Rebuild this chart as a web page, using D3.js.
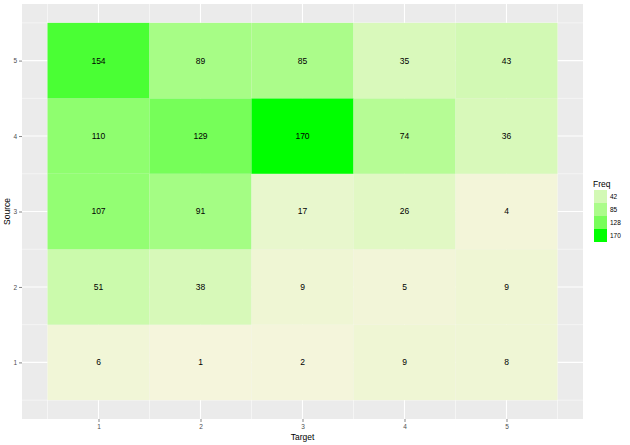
<!DOCTYPE html>
<html>
<head>
<meta charset="utf-8">
<script src="https://cdn.jsdelivr.net/npm/d3@7"></script>
<style>
  body { margin: 0; background: #fff; }
  text { font-family: "Liberation Sans", Arial, sans-serif; }
</style>
</head>
<body>
<svg id="canvas"></svg>
<script>
// rows of the matrix, Target 1..5 along each row
let targets = [1, 2, 3, 4, 5];
let sources = [1, 2, 3, 4, 5];
let source1 = [6, 1, 2, 9, 8];
let source2 = [51, 38, 9, 5, 9];
let source3 = [107, 91, 17, 26, 4];
let source4 = [110, 129, 170, 74, 36];
let source5 = [154, 89, 85, 35, 43];
let legendBreaks = [42, 85, 128, 170];

let width = 630;
let height = 445;
let panel = { left: 22, top: 4, right: 583, bottom: 419 };

let rows = [source1, source2, source3, source4, source5];
let cells = [];
rows.forEach((row, i) => {
  row.forEach((freq, j) => {
    cells.push({ target: targets[j], source: sources[i], freq: freq });
  });
});

let canvas = d3.select("#canvas").attr("width", width).attr("height", height);

let xScale = d3.scaleLinear().domain([0.25, 5.75]).range([panel.left, panel.right]);
let yScale = d3.scaleLinear().domain([0.25, 5.75]).range([panel.bottom, panel.top]);

let minFreq = d3.min(cells, (d) => d.freq);
let maxFreq = d3.max(cells, (d) => d.freq);
let colorScale = d3
  .scaleLinear()
  .domain([minFreq, maxFreq])
  .range(["#F5F5DC", "#00FF00"])
  .interpolate(d3.interpolateLab);

// panel background
canvas
  .append("rect")
  .attr("x", panel.left)
  .attr("y", panel.top)
  .attr("width", panel.right - panel.left)
  .attr("height", panel.bottom - panel.top)
  .attr("fill", "#EBEBEB");

// grid lines, minor then major
let minor = [0.5, 1.5, 2.5, 3.5, 4.5, 5.5];
let grid = canvas.append("g");
minor.forEach((v) => {
  grid.append("line")
    .attr("x1", xScale(v)).attr("x2", xScale(v))
    .attr("y1", panel.top).attr("y2", panel.bottom)
    .attr("stroke", "#fff").attr("stroke-width", 0.5);
  grid.append("line")
    .attr("y1", yScale(v)).attr("y2", yScale(v))
    .attr("x1", panel.left).attr("x2", panel.right)
    .attr("stroke", "#fff").attr("stroke-width", 0.5);
});
targets.forEach((v) => {
  grid.append("line")
    .attr("x1", xScale(v)).attr("x2", xScale(v))
    .attr("y1", panel.top).attr("y2", panel.bottom)
    .attr("stroke", "#fff").attr("stroke-width", 1.1);
});
sources.forEach((v) => {
  grid.append("line")
    .attr("y1", yScale(v)).attr("y2", yScale(v))
    .attr("x1", panel.left).attr("x2", panel.right)
    .attr("stroke", "#fff").attr("stroke-width", 1.1);
});

// tiles
canvas
  .selectAll("rect.cell")
  .data(cells)
  .enter()
  .append("rect")
  .attr("class", "cell")
  .attr("x", (d) => xScale(d.target - 0.5))
  .attr("y", (d) => yScale(d.source + 0.5))
  .attr("width", (d) => xScale(d.target + 0.5) - xScale(d.target - 0.5))
  .attr("height", (d) => yScale(d.source - 0.5) - yScale(d.source + 0.5))
  .attr("fill", (d) => colorScale(d.freq));

canvas
  .selectAll("text.value")
  .data(cells)
  .enter()
  .append("text")
  .attr("class", "value")
  .attr("x", (d) => xScale(d.target))
  .attr("y", (d) => yScale(d.source))
  .attr("dy", "0.35em")
  .attr("text-anchor", "middle")
  .attr("font-size", 8.5)
  .attr("fill", "#000")
  .text((d) => d.freq);

// axes
let xAxis = d3.axisBottom(xScale).tickValues(targets).tickSize(3).tickPadding(2).tickFormat(d3.format("d"));
let yAxis = d3.axisLeft(yScale).tickValues(sources).tickSize(3).tickPadding(2).tickFormat(d3.format("d"));

let gx = canvas.append("g").attr("transform", "translate(0," + panel.bottom + ")").call(xAxis);
let gy = canvas.append("g").attr("transform", "translate(" + panel.left + ",0)").call(yAxis);
[gx, gy].forEach((g) => {
  g.select(".domain").remove();
  g.selectAll(".tick line").attr("stroke", "#333").attr("stroke-width", 0.6);
  g.selectAll(".tick text").attr("fill", "#4D4D4D").attr("font-size", 6.5)
    .style("font-family", "Liberation Sans, Arial, sans-serif");
});

canvas.append("text")
  .attr("x", (panel.left + panel.right) / 2)
  .attr("y", 440)
  .attr("text-anchor", "middle")
  .attr("font-size", 8.5)
  .text("Target");

canvas.append("text")
  .attr("transform", "translate(10," + (panel.top + panel.bottom) / 2 + ") rotate(-90)")
  .attr("text-anchor", "middle")
  .attr("font-size", 8.5)
  .text("Source");

// legend
let legend = canvas.append("g").attr("transform", "translate(594,190)");
legend.append("text")
  .attr("x", -1)
  .attr("y", -3)
  .attr("font-size", 8.5)
  .text("Freq");
let keySize = 13;
legend
  .selectAll("rect.key")
  .data(legendBreaks)
  .enter()
  .append("rect")
  .attr("class", "key")
  .attr("x", 0)
  .attr("y", (d, i) => i * keySize)
  .attr("width", keySize)
  .attr("height", keySize)
  .attr("fill", (d) => colorScale(d));
legend
  .selectAll("text.label")
  .data(legendBreaks)
  .enter()
  .append("text")
  .attr("class", "label")
  .attr("x", keySize + 3)
  .attr("y", (d, i) => i * keySize + keySize / 2)
  .attr("dy", "0.35em")
  .attr("font-size", 6.5)
  .attr("fill", "#000")
  .text((d) => d);
</script>
</body>
</html>
